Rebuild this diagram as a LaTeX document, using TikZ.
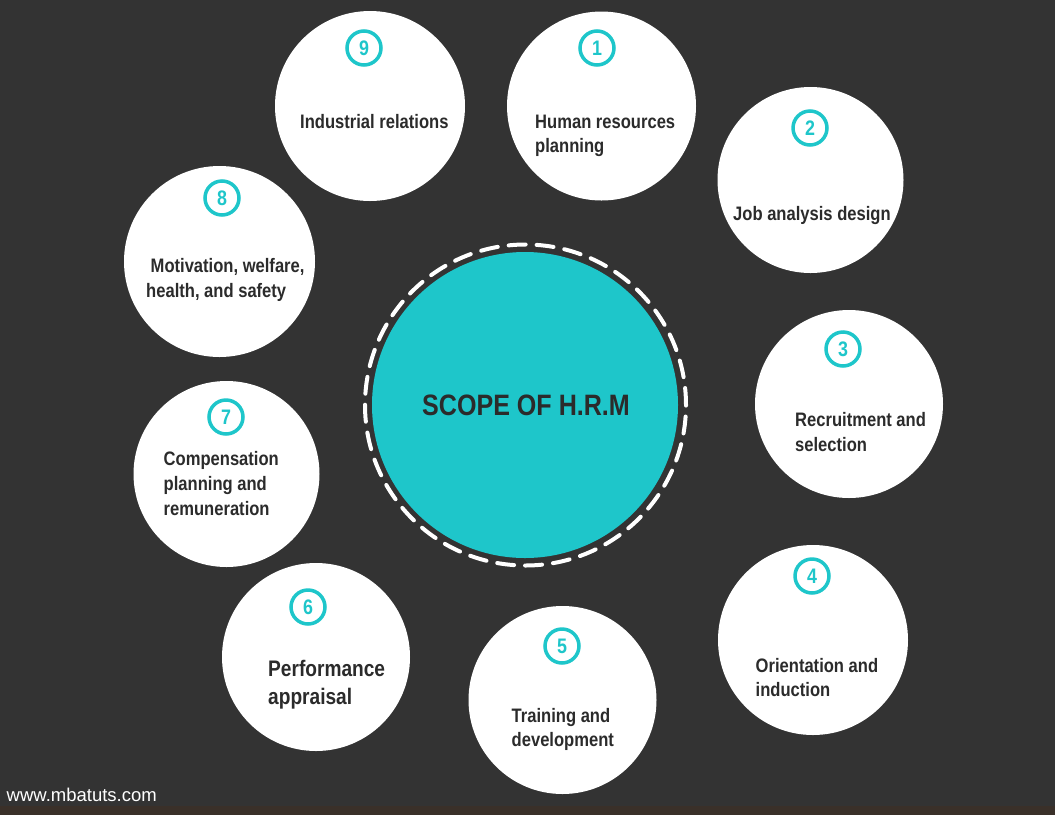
\documentclass[tikz,border=0pt]{standalone}
\usepackage{fontspec}
\setmainfont{Liberation Sans}
\newfontfamily\cond{Liberation Sans}[FakeStretch=0.85]
\definecolor{bg}{HTML}{333333}
\definecolor{teal}{HTML}{1EC6CA}
\definecolor{ink}{HTML}{2B2B2B}
\definecolor{strip}{HTML}{3A3029}
\tikzset{
  item/.style={circle,fill=white,minimum size=188pt,inner sep=0pt},
  num/.style={circle,draw=teal,line width=3.5pt,minimum size=34pt,inner sep=0pt,text=teal,font=\cond\bfseries\fontsize{21}{21}\selectfont},
  lbl/.style={anchor=base west,inner sep=0pt,text=ink,font=\cond\bfseries\fontsize{19.5}{19.5}\selectfont},
  biglbl/.style={anchor=base west,inner sep=0pt,text=ink,font=\cond\bfseries\fontsize{22.5}{22.5}\selectfont},
}
\begin{document}
\begin{tikzpicture}[x=1pt,y=-1pt]
\useasboundingbox (0,0) rectangle (1055,815);
\fill[bg] (0,0) rectangle (1055,815);
\fill[strip] (0,806) rectangle (1055,815);
% center
\node[circle,fill=teal,minimum size=306pt,inner sep=0pt] (c) at (525,405) {};
\draw[white,line width=4pt,dash pattern=on 17pt off 11pt,line cap=round] (525.5,405) circle[radius=160.5pt];
\node[anchor=base,inner sep=0pt,text=ink,font=\cond\bfseries\fontsize{29.5}{29.5}\selectfont] (ct) at (526,415) {SCOPE OF H.R.M};
% circles
\node[item,minimum size=190pt] (c9) at (370,106) {};
\node[item,minimum size=189pt] (c1) at (601.5,106) {};
\node[item,minimum size=186pt] (c2) at (810.5,180) {};
\node[item] (c3) at (849,404) {};
\node[item,minimum size=190pt] (c4) at (813,640) {};
\node[item] (c5) at (562.5,700) {};
\node[item] (c6) at (316,657) {};
\node[item,minimum size=186pt] (c7) at (226.5,474) {};
\node[item,minimum size=191pt] (c8) at (219.5,261.5) {};
% numbers
\node[num] (n1) at (597,48) {1};
\node[num] (n2) at (810,128) {2};
\node[num] (n3) at (843,349) {3};
\node[num] (n4) at (812,576) {4};
\node[num] (n5) at (562,646) {5};
\node[num] (n6) at (308,607) {6};
\node[num] (n7) at (226,417) {7};
\node[num] (n8) at (222,198) {8};
\node[num] (n9) at (364,48) {9};
% labels
\node[lbl] (t9) at (300,128) {Industrial relations};
\node[lbl] (t1a) at (535,128) {Human resources};
\node[lbl] (t1b) at (535,152) {planning};
\node[lbl] (t2) at (733,220) {Job analysis design};
\node[lbl] (t3a) at (795,426) {Recruitment and};
\node[lbl] (t3b) at (795,451) {selection};
\node[lbl] (t4a) at (755.5,672) {Orientation and};
\node[lbl] (t4b) at (755.5,696) {induction};
\node[lbl] (t5a) at (511.5,722) {Training and};
\node[lbl] (t5b) at (511.5,746) {development};
\node[biglbl] (t6a) at (268,676) {Performance};
\node[biglbl] (t6b) at (268,704) {appraisal};
\node[lbl] (t7a) at (163.5,465) {Compensation};
\node[lbl] (t7b) at (163.5,490) {planning and};
\node[lbl] (t7c) at (163.5,515) {remuneration};
\node[lbl] (t8a) at (150.5,272) {Motivation, welfare,};
\node[lbl] (t8b) at (146,297) {health, and safety};
% footer
\node[anchor=base west,inner sep=0pt,text=white,font=\fontsize{18.5}{18.5}\selectfont] (web) at (6.5,801) {www.mbatuts.com};
\end{tikzpicture}
\end{document}
